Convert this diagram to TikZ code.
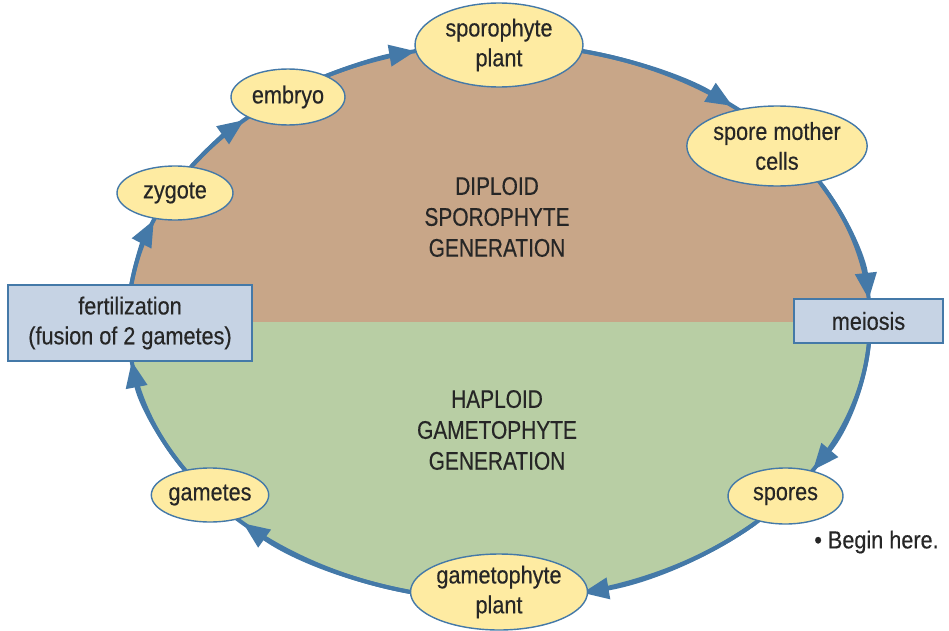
\documentclass[tikz,border=0pt]{standalone}
\usepackage{fontspec}
\setmainfont{Liberation Sans}[FakeStretch=0.88,FakeBold=0.4]
\newfontfamily\condfont{Liberation Sans}[FakeStretch=0.82,FakeBold=0.4]
\usetikzlibrary{shapes.geometric,arrows.meta}
\definecolor{diplo}{HTML}{C8A688}
\definecolor{haplo}{HTML}{B8CEA4}
\definecolor{stagefill}{HTML}{FEEBA2}
\definecolor{ringblue}{HTML}{4479A8}
\definecolor{boxfill}{HTML}{C6D3E4}
\definecolor{ink}{HTML}{262626}
\begin{document}
\begin{tikzpicture}[x=0.02cm,y=0.02cm,
  stage/.style={ellipse, draw=ringblue, line width=0.8pt, fill=stagefill, inner sep=0pt,
    align=center, text=ink, font=\fontsize{14}{17}\selectfont},
  event/.style={rectangle, draw=ringblue, line width=1pt, fill=boxfill, inner sep=0pt,
    align=center, text=ink, font=\fontsize{14}{17}\selectfont},
  ring/.style={draw=ringblue, line width=2.3pt},
  flow/.style={ring, -{Triangle[length=15pt,width=12pt]}},
  gen/.style={align=center, text=ink, font=\condfont\fontsize{14.5}{17.6}\selectfont}]
\useasboundingbox (0,0) rectangle (949,630);
\coordinate (C) at (499,308);
% halves
\fill[diplo] (C) ++(0:371 and 278) arc[start angle=0, end angle=180, x radius=371, y radius=278] -- cycle;
\fill[haplo] (C) ++(180:371 and 278) arc[start angle=180, end angle=360, x radius=371, y radius=278] -- cycle;
\draw[ring] (C) ellipse [x radius=371, y radius=278];
% connectors (arcs of the cycle)
\draw[flow] (C) ++(172.4:371 and 278) arc[start angle=172.4, end angle=158.5, x radius=371, y radius=278];
\draw[flow] (C) ++(145.9:371 and 278) arc[start angle=145.9, end angle=133.4, x radius=371, y radius=278];
\draw[flow] (C) ++(120.3:371 and 278) arc[start angle=120.3, end angle=103, x radius=371, y radius=278];
\draw[flow] (C) ++(77:371 and 278) arc[start angle=77, end angle=51, x radius=371, y radius=278];
\draw[flow] (C) ++(29.5:371 and 278) arc[start angle=29.5, end angle=4.7, x radius=371, y radius=278];
\draw[flow] (C) ++(-4.3:371 and 278) arc[start angle=-4.3, end angle=-32.2, x radius=371, y radius=278];
\draw[flow] (C) ++(-46.3:371 and 278) arc[start angle=-46.3, end angle=-77, x radius=371, y radius=278];
\draw[flow] (C) ++(-103:371 and 278) arc[start angle=-103, end angle=-133.6, x radius=371, y radius=278];
\draw[flow] (C) ++(-147.8:371 and 278) arc[start angle=-147.8, end angle=-171.9, x radius=371, y radius=278];
% generation labels
\node[gen] (diploid) at (497,413) {DIPLOID\\SPOROPHYTE\\GENERATION};
\node[gen] (haploid) at (497,200) {HAPLOID\\GAMETOPHYTE\\GENERATION};
% stages
\node[stage, minimum width=3.36cm, minimum height=1.68cm] (sporo) at (499,585) {sporophyte\\plant};
\node[stage, minimum width=3.36cm, minimum height=1.6cm] (smc) at (777,484) {spore mother\\cells};
\node[stage, minimum width=2.3cm, minimum height=1.12cm] (spores) at (785.5,134) {spores};
\node[stage, minimum width=3.32cm, minimum height=1.52cm] (gameto) at (499,38) {gametophyte\\plant};
\node[stage, minimum width=2.32cm, minimum height=1.08cm] (gametes) at (210,135) {gametes};
\node[stage, minimum width=2.32cm, minimum height=1.08cm] (zygote) at (175,437) {zygote};
\node[stage, minimum width=2.28cm, minimum height=1.12cm] (embryo) at (288,533) {embryo};
\node[event, minimum width=4.88cm, minimum height=1.52cm] (fert) at (130,307) {fertilization\\(fusion of 2 gametes)};
\node[event, minimum width=2.98cm, minimum height=0.88cm] (meiosis) at (868.5,309) {meiosis};
\node[anchor=west, inner sep=0pt, text=ink, font=\fontsize{14}{17}\selectfont] (begin) at (814,88) {\textbullet\ Begin here.};
\end{tikzpicture}
\end{document}
